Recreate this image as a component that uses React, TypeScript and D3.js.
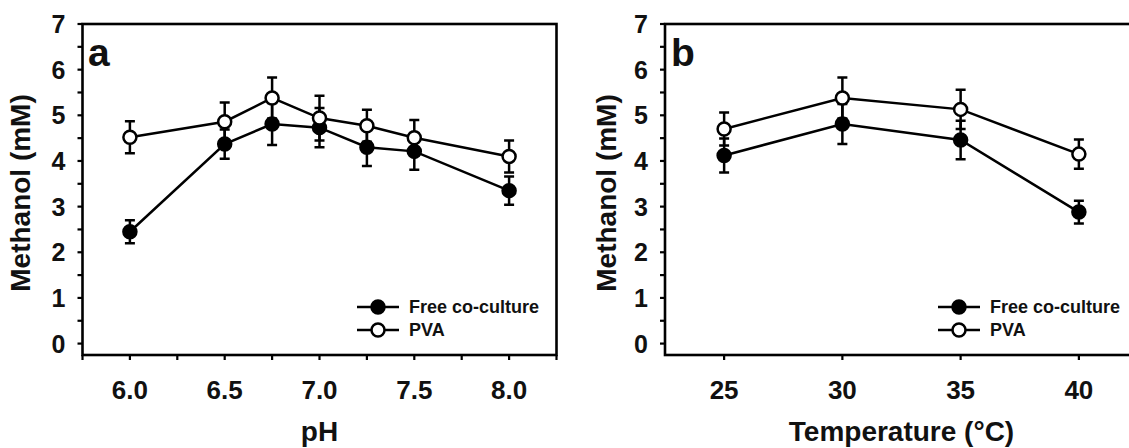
import React from 'react';
import * as d3 from 'd3';

// values
const phValues = [6.0, 6.5, 6.75, 7.0, 7.25, 7.5, 8.0];
const phFree = [2.45, 4.37, 4.81, 4.73, 4.3, 4.21, 3.35];
const phFreeErr = [0.25, 0.32, 0.46, 0.43, 0.41, 0.4, 0.31];
const phPva = [4.52, 4.86, 5.38, 4.94, 4.77, 4.51, 4.1];
const phPvaErr = [0.35, 0.42, 0.45, 0.49, 0.35, 0.39, 0.35];

const tempValues = [25, 30, 35, 40];
const tempFree = [4.12, 4.81, 4.46, 2.88];
const tempFreeErr = [0.37, 0.44, 0.42, 0.25];
const tempPva = [4.7, 5.38, 5.13, 4.15];
const tempPvaErr = [0.36, 0.45, 0.43, 0.32];

const phTicks = [6.0, 6.5, 7.0, 7.5, 8.0];
const phMinor = [5.75, 6.0, 6.25, 6.5, 6.75, 7.0, 7.25, 7.5, 7.75, 8.0, 8.25];
const tempTicks = [25, 30, 35, 40];
const yTicks = [0, 1, 2, 3, 4, 5, 6, 7];
const yMinor = d3.range(0, 7.01, 0.5);
const seriesNames = ['Free co-culture', 'PVA'];

const FONT = '"Liberation Sans", Arial, Helvetica, sans-serif';
const W = 1129;
const H = 448;
const TOP = 24;
const BOTTOM = 355;

type PanelProps = {
  left: number;
  right: number;
  letter: string;
  letterX: number;
  xTitle: string;
  xDomain: [number, number];
  xTicks: number[];
  xMinor: number[];
  fmt: (v: number) => string;
  xs: number[];
  free: number[];
  freeErr: number[];
  pva: number[];
  pvaErr: number[];
  yTitleX: number;
  legendX: number;
};

function Panel(p: PanelProps) {
  const x = d3.scaleLinear().domain(p.xDomain).range([p.left, p.right]);
  const y = d3.scaleLinear().domain([-0.25, 7]).range([BOTTOM, TOP]);
  const line = d3
    .line<number>()
    .x((_, i) => x(p.xs[i]))
    .y((d) => y(d));

  const errBars = (vals: number[], errs: number[], key: string) =>
    vals.map((v, i) => {
      const cx = x(p.xs[i]);
      const y0 = y(v - errs[i]);
      const y1 = y(v + errs[i]);
      return (
        <path
          key={key + i}
          d={`M${cx},${y0}V${y1}M${cx - 5},${y0}H${cx + 5}M${cx - 5},${y1}H${cx + 5}`}
          stroke="#000"
          strokeWidth={2.5}
          fill="none"
        />
      );
    });

  const rowY = [307, 330];
  const lx = p.legendX;

  return (
    <g fontFamily={FONT} fontWeight="bold" fill="#111">
      {/* frame */}
      <rect
        x={p.left}
        y={TOP}
        width={p.right - p.left}
        height={BOTTOM - TOP}
        fill="none"
        stroke="#000"
        strokeWidth={2.6}
      />
      {/* y ticks */}
      {yMinor.map((t) => (
        <line key={'ym' + t} x1={p.left - 5} x2={p.left} y1={y(t)} y2={y(t)} stroke="#000" strokeWidth={2.2} />
      ))}
      {yTicks.map((t) => (
        <text key={'yl' + t} x={p.left - 17} y={y(t)} dy="0.36em" textAnchor="end" fontSize={25}>
          {t}
        </text>
      ))}
      {/* x ticks */}
      {p.xMinor.map((t) => (
        <line key={'xm' + t} x1={x(t)} x2={x(t)} y1={BOTTOM} y2={BOTTOM + 5} stroke="#000" strokeWidth={2.2} />
      ))}
      {p.xTicks.map((t) => (
        <text key={'xl' + t} x={x(t)} y={399} textAnchor="middle" fontSize={26}>
          {p.fmt(t)}
        </text>
      ))}
      {/* titles */}
      <text x={(p.left + p.right) / 2} y={441} textAnchor="middle" fontSize={28}>
        {p.xTitle}
      </text>
      <text
        transform={`translate(${p.yTitleX},193) rotate(-90)`}
        textAnchor="middle"
        fontSize={28}
      >
        Methanol (mM)
      </text>
      <text x={p.letterX} y={66} fontSize={39}>
        {p.letter}
      </text>
      {/* series */}
      <path d={line(p.free) ?? ''} fill="none" stroke="#000" strokeWidth={2.5} />
      <path d={line(p.pva) ?? ''} fill="none" stroke="#000" strokeWidth={2.5} />
      {errBars(p.free, p.freeErr, 'fe')}
      {errBars(p.pva, p.pvaErr, 'pe')}
      {p.free.map((v, i) => (
        <circle key={'fc' + i} cx={x(p.xs[i])} cy={y(v)} r={6.5} fill="#000" stroke="#000" strokeWidth={2.5} />
      ))}
      {p.pva.map((v, i) => (
        <circle key={'pc' + i} cx={x(p.xs[i])} cy={y(v)} r={6.5} fill="#fff" stroke="#000" strokeWidth={2.5} />
      ))}
      {/* legend */}
      {seriesNames.map((name, i) => (
        <g key={name}>
          <line x1={lx} x2={lx + 42} y1={rowY[i]} y2={rowY[i]} stroke="#000" strokeWidth={2.5} />
          <circle
            cx={lx + 21}
            cy={rowY[i]}
            r={6.5}
            fill={i === 0 ? '#000' : '#fff'}
            stroke="#000"
            strokeWidth={2.5}
          />
          <text x={lx + 52} y={rowY[i]} dy="0.36em" fontSize={18}>
            {name}
          </text>
        </g>
      ))}
    </g>
  );
}

export default function App() {
  return (
    <svg
      width={W}
      height={H}
      style={{ position: 'absolute', left: 0, top: 0, background: '#fff', display: 'block' }}
    >
      <rect width={W} height={H} fill="#fff" />
      <Panel
        left={82.5}
        right={556.5}
        letter="a"
        letterX={88}
        xTitle="pH"
        xDomain={[5.75, 8.25]}
        xTicks={phTicks}
        xMinor={phMinor}
        fmt={(v) => v.toFixed(1)}
        xs={phValues}
        free={phFree}
        freeErr={phFreeErr}
        pva={phPva}
        pvaErr={phPvaErr}
        yTitleX={30}
        legendX={357}
      />
      <Panel
        left={665}
        right={1138}
        letter="b"
        letterX={671}
        xTitle="Temperature (°C)"
        xDomain={[22.5, 42.5]}
        xTicks={tempTicks}
        xMinor={tempTicks}
        fmt={(v) => String(v)}
        xs={tempValues}
        free={tempFree}
        freeErr={tempFreeErr}
        pva={tempPva}
        pvaErr={tempPvaErr}
        yTitleX={616}
        legendX={938}
      />
    </svg>
  );
}
